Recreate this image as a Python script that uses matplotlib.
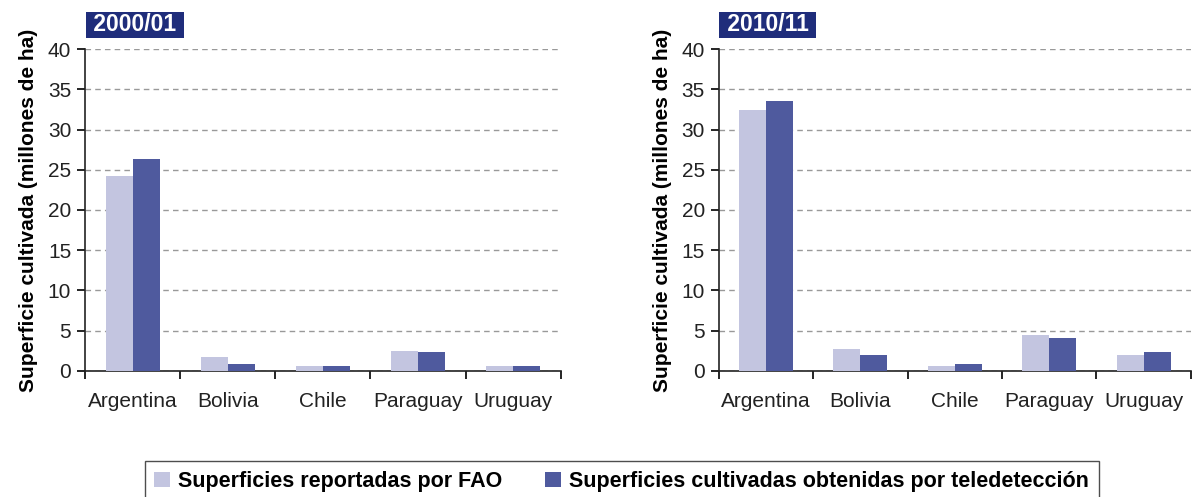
import matplotlib.pyplot as plt
import numpy as np

plt.rcParams['font.family'] = ['Liberation Sans', 'DejaVu Sans']

paises = ['Argentina', 'Bolivia', 'Chile', 'Paraguay', 'Uruguay']
fao_2000 = [24.2, 1.75, 0.6, 2.5, 0.6]
tele_2000 = [26.4, 0.8, 0.6, 2.3, 0.6]
fao_2010 = [32.4, 2.75, 0.6, 4.45, 1.95]
tele_2010 = [33.6, 1.95, 0.85, 4.1, 2.35]
titulos = ['2000/01', '2010/11']

c_fao = '#C3C5E0'
c_tele = '#4F5A9E'
c_titulo = '#1F2D7B'

fig = plt.figure(figsize=(11.98, 4.97), dpi=100)
ax1 = fig.add_axes([0.071, 0.254, 0.397, 0.647])
ax2 = fig.add_axes([0.600, 0.254, 0.394, 0.647])

x = np.arange(len(paises))
w = 0.285
for ax, fao, tele, tit in [(ax1, fao_2000, tele_2000, titulos[0]),
                           (ax2, fao_2010, tele_2010, titulos[1])]:
    ax.bar(x - w/2, fao, w, color=c_fao, zorder=3, label='Superficies reportadas por FAO')
    ax.bar(x + w/2, tele, w, color=c_tele, zorder=3, label='Superficies cultivadas obtenidas por teledetección')
    ax.set_xlim(-0.5, len(paises) - 0.5)
    ax.set_ylim(0, 40)
    ax.set_yticks(range(0, 41, 5))
    ax.set_xticks(x)
    ax.set_xticklabels(paises, fontsize=15, color='#222222')
    ax.set_xticks(np.arange(-0.5, len(paises)), minor=True)
    ax.tick_params(axis='x', which='major', length=0, pad=15)
    ax.tick_params(axis='x', which='minor', length=6, width=1.2, direction='out')
    ax.tick_params(axis='y', labelsize=15, length=6, width=1.2, pad=4, labelcolor='#222222')
    ax.grid(axis='y', linestyle=(0, (4, 3)), color='#999999', linewidth=1, zorder=0)
    for s in ['top', 'right']:
        ax.spines[s].set_visible(False)
    for s in ['left', 'bottom']:
        ax.spines[s].set_linewidth(1.2)
        ax.spines[s].set_color('#222222')
    ax.set_ylabel('Superficie cultivada (millones de ha)', fontsize=15, fontweight='bold', labelpad=7)
    ax.text(0.004, 1.04, ' ' + tit + ' ', transform=ax.transAxes, fontsize=16.5,
            fontweight='bold', color='white', va='bottom', ha='left',
            bbox=dict(boxstyle='square,pad=0.06', fc=c_titulo, ec='none'))

handles, labels = ax1.get_legend_handles_labels()
leg = fig.legend(handles, labels, loc='upper center', bbox_to_anchor=(0.519, 0.072), ncol=2,
                 frameon=True, fancybox=False, edgecolor='#222222',
                 prop={'weight': 'bold', 'size': 15.5}, handlelength=0.7, handleheight=0.7,
                 columnspacing=2.0, handletextpad=0.4, borderpad=0.45, borderaxespad=0)
leg.get_frame().set_linewidth(1.0)

fig.savefig('out.png', dpi=100)
